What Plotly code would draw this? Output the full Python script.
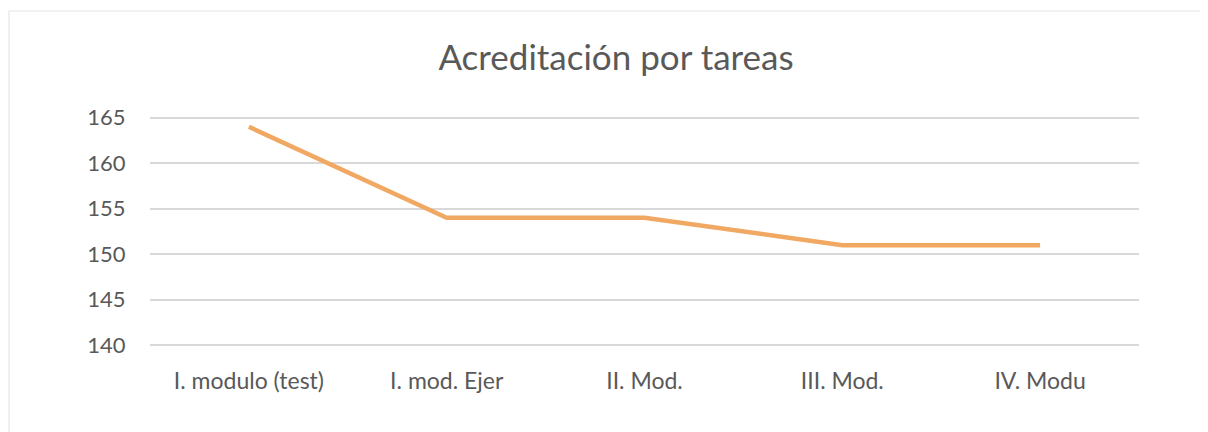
import plotly.graph_objects as go

categories = ["I. modulo (test)", "I. mod. Ejer", "II. Mod.", "III. Mod.", "IV. Modu"]
values = [164, 154, 154, 151, 151]
y_ticks = [140, 145, 150, 155, 160, 165]
title_text = "Acreditación por tareas"

# figure is placed at (8, 8) in the page by the default body margin
W, H = 1200, 424
L, R, T, B = 142, 69, 107, 84
pw = W - L - R
ph = H - T - B

fig = go.Figure()
fig.add_trace(go.Scatter(
    x=categories, y=values, mode="lines",
    line=dict(color="#F0A862", width=4.5),
    hoverinfo="x+y",
))

text_color = "#595959"
fig.update_layout(
    width=W, height=H,
    margin=dict(l=L, r=R, t=T, b=B),
    paper_bgcolor="white", plot_bgcolor="white",
    showlegend=False,
    font=dict(family="Lato, Open Sans, sans-serif", color=text_color),
    title=dict(text=title_text, x=(616 - 8) / W, xref="container", xanchor="center",
               y=1 - 50 / H, yanchor="middle",
               font=dict(size=35, color=text_color, family="Lato, Open Sans, sans-serif")),
    xaxis=dict(
        type="category", showgrid=False, zeroline=False, showline=False,
        ticks="outside", ticklen=12, tickcolor="rgba(0,0,0,0)",
        tickfont=dict(size=23, color=text_color),
        range=[-0.5, len(categories) - 0.5],
    ),
    yaxis=dict(
        range=[139.7, 165.3], tickvals=y_ticks, showgrid=True,
        gridcolor="#D9D9D9", gridwidth=1.5, zeroline=False, showline=False,
        ticks="outside", ticklen=19, tickcolor="rgba(0,0,0,0)",
        tickfont=dict(size=22, color=text_color),
    ),
    shapes=[
        dict(type="line", xref="paper", yref="paper",
             x0=(1 - L) / pw, x1=(1 - L) / pw,
             y0=(H - B - 3) / ph, y1=(H - B - 440) / ph,
             line=dict(color="#E6E6E6", width=1.2)),
        dict(type="line", xref="paper", yref="paper",
             x0=(1 - L) / pw, x1=(1220 - L) / pw,
             y0=(H - B - 3) / ph, y1=(H - B - 3) / ph,
             line=dict(color="#E6E6E6", width=1.2)),
    ],
)

fig.write_html("out.html")
